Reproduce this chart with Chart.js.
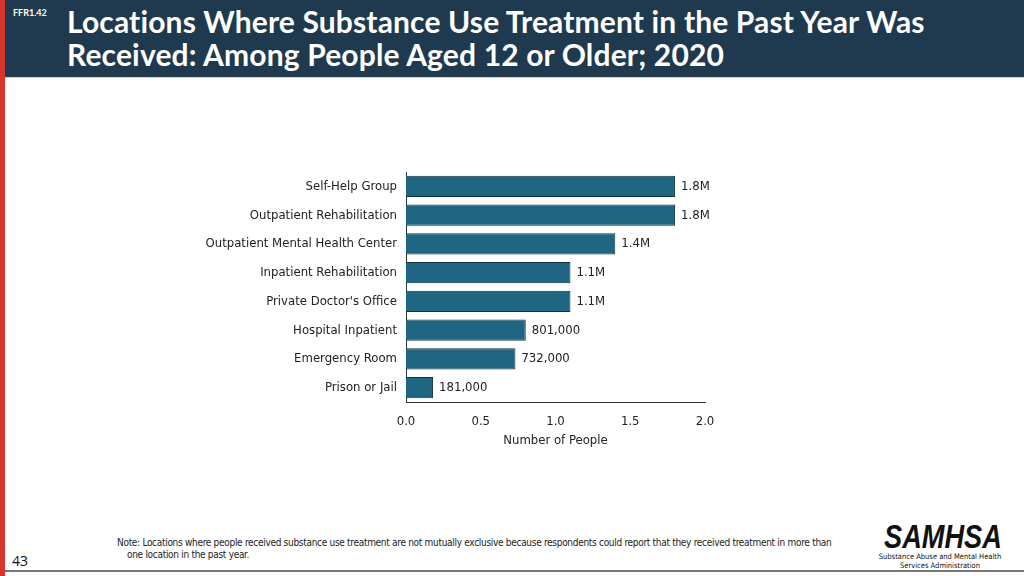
<!DOCTYPE html>
<html>
<head>
<meta charset="utf-8">
<script src="https://cdn.jsdelivr.net/npm/chart.js@4"></script>
<style>
  body { margin: 0; width: 1024px; height: 576px; overflow: hidden; background: #fff; position: relative; font-family: 'DejaVu Sans Condensed', 'DejaVu Sans', sans-serif; }
  #stripe { position: absolute; left: 0; top: 0; width: 5px; height: 576px; background: #d8362d; }
  #header { position: absolute; left: 5px; top: 0; width: 1019px; height: 77px; background: #1f3a4e; border-bottom: 1px solid #c9d3da; }
  #code { position: absolute; left: 13px; top: 7px; color: #fff; font: bold 9px Lato, 'Open Sans', sans-serif; }
  #title { position: absolute; left: 67px; top: 5px; color: #fff; font: bold 30px Lato, 'Open Sans', sans-serif; letter-spacing: 0.15px; line-height: 33px; white-space: nowrap; }
  #chartBox { position: absolute; left: 0; top: 150px; width: 1024px; height: 320px; }
  #note { position: absolute; left: 117px; top: 537px; font-size: 10px; letter-spacing: -0.3px; color: #222; line-height: 12px; white-space: nowrap; }
  #note div + div { padding-left: 10px; }
  #page { position: absolute; left: 12px; top: 551px; font: 14px 'Open Sans', sans-serif; color: #111; }
  #footline { position: absolute; left: 5px; top: 570px; width: 1019px; height: 2px; background: #777; }
  #logo { position: absolute; left: 870px; top: 520px; width: 140px; text-align: center; color: #111; }
  #logo .big { font: italic bold 34px 'Liberation Sans', Arial, sans-serif; line-height: 32px; transform: scaleX(0.8); }
  #logo .small { font: 7.5px 'DejaVu Sans Condensed', sans-serif; line-height: 9px; white-space: nowrap; }
</style>
</head>
<body>
<div id="stripe"></div>
<div id="header"></div>
<div id="code">FFR1.42</div>
<div id="title">Locations Where Substance Use Treatment in the Past Year Was<br>Received: Among People Aged 12 or Older; 2020</div>
<div id="chartBox"><canvas id="myChart" width="1024" height="320"></canvas></div>
<div id="note">
  <div>Note: Locations where people received substance use treatment are not mutually exclusive because respondents could report that they received treatment in more than</div>
  <div>one location in the past year.</div>
</div>
<div id="page">43</div>
<div id="footline"></div>
<div id="logo"><div class="big">SAMHSA</div><div class="small">Substance Abuse and Mental Health<br>Services Administration</div></div>
<script>
const locations = ['Self-Help Group', 'Outpatient Rehabilitation', 'Outpatient Mental Health Center', 'Inpatient Rehabilitation', "Private Doctor's Office", 'Hospital Inpatient', 'Emergency Room', 'Prison or Jail'];
const peopleMillions = [1.8, 1.8, 1.4, 1.1, 1.1, 0.801, 0.732, 0.181];
const valueLabels = ['1.8M', '1.8M', '1.4M', '1.1M', '1.1M', '801,000', '732,000', '181,000'];
const xTicks = [0, 0.5, 1.0, 1.5, 2.0];

const font = '"DejaVu Sans Condensed", "DejaVu Sans", sans-serif';
const fontSize = 13;
const ctx = document.getElementById('myChart').getContext('2d');

const valueLabelPlugin = {
  id: 'valueLabels',
  afterDatasetsDraw(chart) {
    const c = chart.ctx;
    const meta = chart.getDatasetMeta(0);
    c.save();
    c.font = fontSize + 'px ' + font;
    c.fillStyle = '#222';
    c.textBaseline = 'middle';
    c.textAlign = 'left';
    meta.data.forEach((bar, i) => {
      c.fillText(valueLabels[i], bar.x + 6, bar.y);
    });
    c.restore();
  }
};

const myChart = new Chart(ctx, {
  type: 'bar',
  data: {
    labels: locations,
    datasets: [{
      data: peopleMillions,
      backgroundColor: '#1e6682',
      borderColor: '#12303d',
      borderWidth: 1,
      barPercentage: 0.74,
      categoryPercentage: 1.0
    }]
  },
  options: {
    indexAxis: 'y',
    responsive: false,
    animation: false,
    layout: { padding: { left: 200, right: 319, top: 22, bottom: 22 } },
    plugins: { legend: { display: false }, tooltip: { enabled: false } },
    scales: {
      x: {
        min: 0,
        max: 2,
        afterBuildTicks: (scale) => { scale.ticks = xTicks.map(v => ({ value: v })); },
        afterFit: (scale) => { scale.height = 46; },
        grid: { display: false, drawTicks: false },
        border: { display: true, color: '#333', width: 1 },
        ticks: {
          padding: 12,
          color: '#222',
          font: { family: font, size: fontSize },
          callback: (v) => Number(v).toFixed(1)
        },
        title: {
          display: true,
          text: 'Number of People',
          color: '#222',
          font: { family: font, size: fontSize },
          padding: { top: 2, bottom: 0 }
        }
      },
      y: {
        afterFit: (scale) => { scale.width = 206; },
        grid: { display: false, drawTicks: false },
        border: { display: true, color: '#333', width: 1 },
        ticks: {
          padding: 9,
          color: '#222',
          font: { family: font, size: fontSize }
        }
      }
    }
  },
  plugins: [valueLabelPlugin]
});
</script>
</body>
</html>
